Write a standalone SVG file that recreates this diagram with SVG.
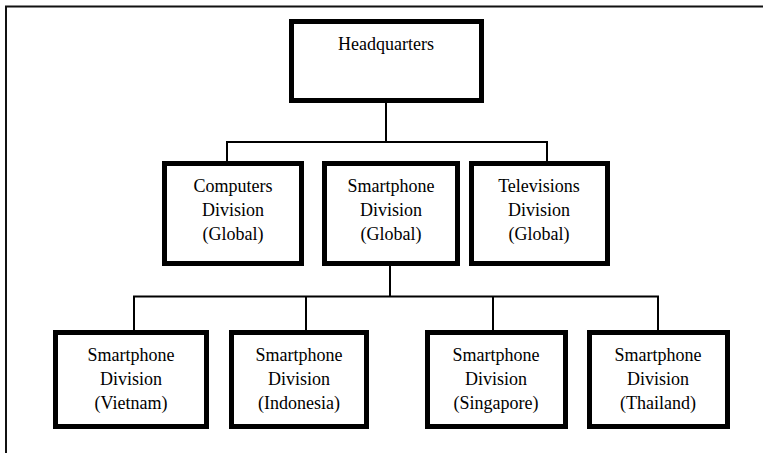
<svg xmlns="http://www.w3.org/2000/svg" width="763" height="453" viewBox="0 0 763 453">
  <style>
    .frame { fill: none; stroke: #111; stroke-width: 2; }
    .box { fill: #fff; stroke: #000; stroke-width: 5; }
    .wire { fill: none; stroke: #000; stroke-width: 2; stroke-linejoin: miter; }
    text { font-family: "Liberation Serif", "Times New Roman", serif; font-size: 18px; fill: #000; text-anchor: middle; }
  </style>
  <rect width="763" height="453" fill="#fff"/>
  <!-- page frame: top and left edges only -->
  <path class="frame" d="M6 453 V6.5 H763"/>

  <g id="connectors">
    <path class="wire" d="M386 103 V142 M227 162 V142 H547 V162"/>
    <path class="wire" d="M390 266 V296.5 M134 331 V296.5 H658 V331 M306 296.5 V331 M493 296.5 V331"/>
  </g>

  <g id="headquarters">
    <rect class="box" x="291.5" y="21.5" width="190" height="79"/>
    <text x="386" y="50">Headquarters</text>
  </g>

  <g id="computers">
    <rect class="box" x="164.5" y="163.5" width="137" height="100"/>
    <text x="233" y="192">Computers</text>
    <text x="233" y="216">Division</text>
    <text x="233" y="240">(Global)</text>
  </g>
  <g id="smartphone-global">
    <rect class="box" x="324.5" y="163.5" width="133" height="100"/>
    <text x="391" y="192">Smartphone</text>
    <text x="391" y="216">Division</text>
    <text x="391" y="240">(Global)</text>
  </g>
  <g id="televisions">
    <rect class="box" x="471.5" y="163.5" width="136" height="100"/>
    <text x="539" y="192">Televisions</text>
    <text x="539" y="216">Division</text>
    <text x="539" y="240">(Global)</text>
  </g>

  <g id="smartphone-vietnam">
    <rect class="box" x="55.5" y="332.5" width="151" height="94"/>
    <text x="131" y="361">Smartphone</text>
    <text x="131" y="385">Division</text>
    <text x="131" y="409">(Vietnam)</text>
  </g>
  <g id="smartphone-indonesia">
    <rect class="box" x="231.5" y="332.5" width="135" height="94"/>
    <text x="299" y="361">Smartphone</text>
    <text x="299" y="385">Division</text>
    <text x="299" y="409">(Indonesia)</text>
  </g>
  <g id="smartphone-singapore">
    <rect class="box" x="427.5" y="332.5" width="138" height="94"/>
    <text x="496" y="361">Smartphone</text>
    <text x="496" y="385">Division</text>
    <text x="496" y="409">(Singapore)</text>
  </g>
  <g id="smartphone-thailand">
    <rect class="box" x="589.5" y="332.5" width="138" height="94"/>
    <text x="658" y="361">Smartphone</text>
    <text x="658" y="385">Division</text>
    <text x="658" y="409">(Thailand)</text>
  </g>
</svg>
